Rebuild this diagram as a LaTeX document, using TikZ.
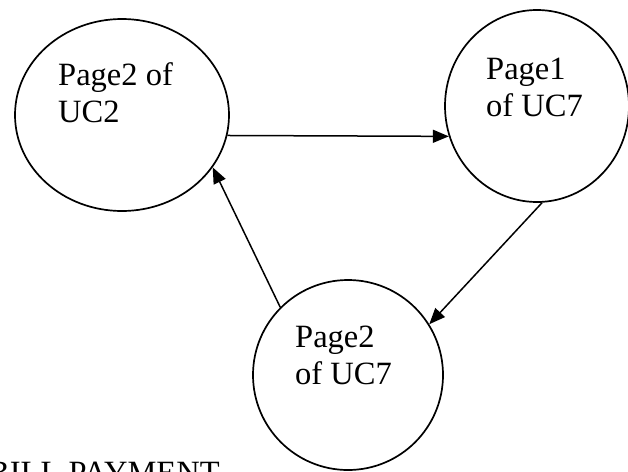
\documentclass[tikz,border=0pt]{standalone}
\usepackage{fontspec}
\setmainfont{Liberation Serif}
\usetikzlibrary{shapes.geometric,arrows.meta}

\tikzset{
  page/.style={draw=black, line width=1.7pt, ellipse, inner sep=0pt},
  caption/.style={anchor=base west, inner sep=0pt, font=\fontsize{32.5}{37}\selectfont},
  flow/.style={draw=black, line width=1.5pt, -{Triangle[length=16pt,width=13pt]}}
}

\begin{document}
\begin{tikzpicture}[x=1pt, y=-1pt]
  \useasboundingbox (0,0) rectangle (628,471);
  \clip (0,0) rectangle (628,471);

  % pages
  \node[page, minimum width=214pt, minimum height=192pt] (uc2p2) at (122,115) {};
  \node[page, minimum width=184pt, minimum height=192pt] (uc7p1) at (537,106) {};
  \node[page, minimum width=190pt, minimum height=190pt] (uc7p2) at (348,375) {};

  % page captions
  \node[caption] (t1) at (58,85) {\begin{tabular}[t]{@{}l@{}}Page2 of\\UC2\end{tabular}};
  \node[caption] (t2) at (486,79) {\begin{tabular}[t]{@{}l@{}}Page1\\of UC7\end{tabular}};
  \node[caption] (t3) at (295,347) {\begin{tabular}[t]{@{}l@{}}Page2\\of UC7\end{tabular}};

  % navigation between pages
  \draw[flow] (uc2p2.-11.9) -- (uc7p1.-161.5);
  \draw[flow] (uc7p1.-87.2) -- (uc7p2.32.6);
  \draw[flow] (uc7p2.135.4) -- (uc2p2.-30);

  % title
  \node[caption] (title) at (-12,483) {BILL PAYMENT};
\end{tikzpicture}
\end{document}
